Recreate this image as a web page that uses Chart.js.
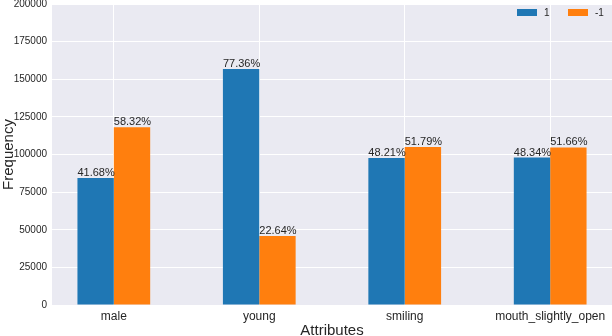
<!DOCTYPE html>
<html>
<head>
<meta charset="utf-8">
<style>
html,body{margin:0;padding:0;background:#fff;overflow:hidden;}
canvas{display:block;}
</style>
<script src="https://cdn.jsdelivr.net/npm/chart.js@4/dist/chart.umd.min.js"></script>
</head>
<body>
<canvas id="c" width="612" height="336"></canvas>
<script>
const categories = ["male", "young", "smiling", "mouth_slightly_open"];
const seriesNames = ["1", "-1"];
const valuesPos = [84434, 156734, 97669, 97942];
const valuesNeg = [118165, 45865, 104930, 104657];
const pctPos = ["41.68%", "77.36%", "48.21%", "48.34%"];
const pctNeg = ["58.32%", "22.64%", "51.79%", "51.66%"];
const yTicks = [0, 25000, 50000, 75000, 100000, 125000, 150000, 175000, 200000];
const colors = ["#1f77b4", "#ff7f0e"];

const FONT = "'Liberation Sans', Arial, sans-serif";
const TXT = "#262626";

const labelPlugin = {
  id: 'pctLabels',
  afterDatasetsDraw(chart) {
    const ctx = chart.ctx;
    const lbls = [pctPos, pctNeg];
    ctx.save();
    ctx.font = "11px " + FONT;
    ctx.fillStyle = TXT;
    ctx.textAlign = 'left';
    ctx.textBaseline = 'alphabetic';
    chart.data.datasets.forEach((ds, di) => {
      const meta = chart.getDatasetMeta(di);
      meta.data.forEach((bar, i) => {
        ctx.fillText(lbls[di][i], bar.x - bar.width / 2, bar.y - 2);
      });
    });
    ctx.restore();
  }
};

const legendPlugin = {
  id: 'customLegend',
  afterDraw(chart) {
    const ctx = chart.ctx;
    ctx.save();
    ctx.font = "10px " + FONT;
    ctx.textBaseline = 'middle';
    ctx.textAlign = 'left';
    const items = [{x: 517, tx: 544}, {x: 568, tx: 595}];
    chart.data.datasets.forEach((ds, i) => {
      ctx.fillStyle = ds.backgroundColor;
      ctx.fillRect(items[i].x, 9, 20, 7);
      ctx.fillStyle = TXT;
      ctx.fillText(ds.label, items[i].tx, 13);
    });
    ctx.restore();
  }
};

const bgPlugin = {
  id: 'plotBg',
  beforeDraw(chart) {
    const a = chart.chartArea;
    const ctx = chart.ctx;
    ctx.save();
    ctx.fillStyle = '#EAEAF2';
    ctx.fillRect(a.left, a.top, a.right - a.left, a.bottom - a.top);
    ctx.restore();
  }
};

new Chart(document.getElementById('c'), {
  type: 'bar',
  data: {
    datasets: [
      { label: seriesNames[0], data: categories.map((c, i) => ({x: i, y: valuesPos[i]})), backgroundColor: colors[0], borderWidth: 0, categoryPercentage: 0.5, barPercentage: 1.0 },
      { label: seriesNames[1], data: categories.map((c, i) => ({x: i, y: valuesNeg[i]})), backgroundColor: colors[1], borderWidth: 0, categoryPercentage: 0.5, barPercentage: 1.0 }
    ]
  },
  options: {
    responsive: false,
    animation: false,
    devicePixelRatio: 1,
    layout: { padding: { top: 4, right: 0, left: 0, bottom: 0 } },
    plugins: { legend: { display: false }, tooltip: { enabled: false } },
    scales: {
      x: {
        type: 'linear',
        min: -0.425,
        max: 3.425,
        offset: false,
        afterBuildTicks(scale) { scale.ticks = categories.map((c, i) => ({value: i})); },
        afterFit(scale) { scale.height = 31; scale.paddingLeft = 0; scale.paddingRight = 0; },
        ticks: {
          autoSkip: false, maxRotation: 0, padding: 4,
          font: { family: FONT, size: 12 }, color: TXT,
          callback: (v) => categories[v] !== undefined ? categories[v] : ''
        },
        grid: { color: '#ffffff', lineWidth: 1, drawTicks: false, offset: false },
        border: { display: false },
        title: { display: true, text: 'Attributes', font: { family: FONT, size: 15 }, color: TXT, padding: { top: 0, bottom: -4 } }
      },
      y: {
        min: 0,
        max: 200000,
        afterBuildTicks(scale) { scale.ticks = yTicks.map(v => ({value: v})); },
        afterFit(scale) { scale.width = 52; scale.paddingTop = 0; scale.paddingBottom = 0; },
        ticks: { padding: 5, font: { family: FONT, size: 10 }, color: TXT, autoSkip: false, callback: (v) => String(v) },
        grid: { color: '#ffffff', lineWidth: 1, drawTicks: false },
        border: { display: false },
        title: { display: true, text: 'Frequency', font: { family: FONT, size: 15 }, color: TXT, padding: { top: 0, bottom: 0 } }
      }
    }
  },
  plugins: [bgPlugin, labelPlugin, legendPlugin]
});
</script>
</body>
</html>
